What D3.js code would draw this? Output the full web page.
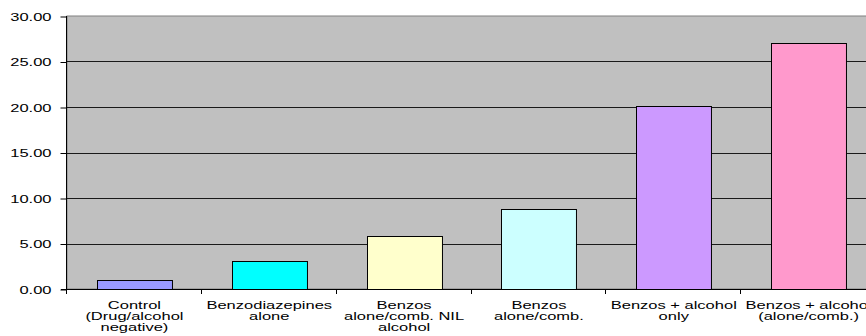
<!DOCTYPE html>
<html>
<head>
<meta charset="utf-8">
<script src="https://cdn.jsdelivr.net/npm/d3@7"></script>
<style>
    body { margin: 0; background: #fff; }
    svg { display: block; }
    text { font-family: Arial, "Liberation Sans", sans-serif; fill: #000; }
</style>
</head>
<body>
<div id="chart"></div>
<script>
// Data
const categories = [
    ["Control", "(Drug/alcohol", "negative)"],
    ["Benzodiazepines", "alone"],
    ["Benzos", "alone/comb. NIL", "alcohol"],
    ["Benzos", "alone/comb."],
    ["Benzos + alcohol", "only"],
    ["Benzos + alcohol", "(alone/comb.)"]
];
const values = [1.0, 3.1, 5.8, 8.8, 20.1, 27.0];
const colors = ["#9999FF", "#00FFFF", "#FFFFCC", "#CCFFFF", "#CC99FF", "#FF99CC"];
const yTicks = [0, 5, 10, 15, 20, 25, 30];

const params = {
    selector: "chart",
    width: 866,
    height: 336,
    margin: {top: 16, left: 67, bottom: 47},
    plotRight: 876,
    stretch: 1.5
}

const svg = d3.select(`#${params.selector}`)
    .append("svg")
    .attr("width", params.width)
    .attr("height", params.height)
    .style("overflow", "hidden");

const keys = categories.map((d, i) => i);

const xScale = d3.scaleBand()
    .domain(keys)
    .range([params.margin.left, params.plotRight])
    .paddingInner(0.444)
    .paddingOuter(0.222);

const yScale = d3.scaleLinear()
    .domain([0, 30])
    .range([params.height - params.margin.bottom, params.margin.top]);

const step = xScale.step();
const x0 = params.margin.left;
const y0 = yScale(0);

// plot area
svg.append("rect")
    .attr("x", x0)
    .attr("y", yScale(30))
    .attr("width", params.plotRight - x0)
    .attr("height", y0 - yScale(30))
    .attr("fill", "#C0C0C0")
    .attr("stroke", "#808080")
    .attr("stroke-width", 1);

// gridlines
svg.append("g")
    .selectAll("line")
    .data(yTicks.filter(d => d > 0 && d < 30))
    .join("line")
    .attr("x1", x0)
    .attr("x2", params.plotRight)
    .attr("y1", d => Math.round(yScale(d)) + 0.5)
    .attr("y2", d => Math.round(yScale(d)) + 0.5)
    .attr("stroke", "#1a1a1a")
    .attr("stroke-width", 1);

// bars
svg.append("g")
    .selectAll("rect")
    .data(values)
    .join("rect")
    .attr("x", (d, i) => Math.round(xScale(i)) + 0.5)
    .attr("y", d => Math.round(yScale(d)) + 0.5)
    .attr("width", xScale.bandwidth())
    .attr("height", d => y0 - Math.round(yScale(d)))
    .attr("fill", (d, i) => colors[i])
    .attr("stroke", "#000")
    .attr("stroke-width", 1);

// y axis
const yAxis = svg.append("g")
    .attr("transform", `translate(${x0 - 0.5}, 0.5)`)
    .call(d3.axisLeft(yScale).tickValues(yTicks).tickFormat(d3.format(".2f")).tickSize(6).tickPadding(4));

yAxis.select(".domain").remove();
yAxis.selectAll(".tick line").attr("stroke", "#000");
yAxis.selectAll(".tick text")
    .attr("font-size", 11)
    .attr("font-family", "Arial, 'Liberation Sans', sans-serif")
    .attr("x", -10 / params.stretch * 1.5 - 0.0)
    .attr("transform", `scale(${params.stretch},1)`);

svg.append("line")
    .attr("x1", x0 - 0.5).attr("x2", x0 - 0.5)
    .attr("y1", yScale(30)).attr("y2", y0 + 3)
    .attr("stroke", "#000");

// x axis
svg.append("line")
    .attr("x1", x0 - 6).attr("x2", params.width)
    .attr("y1", y0 + 0.5).attr("y2", y0 + 0.5)
    .attr("stroke", "#000");

svg.append("g")
    .selectAll("line")
    .data(d3.range(keys.length + 1))
    .join("line")
    .attr("x1", i => Math.round(x0 + i * step) - 0.5)
    .attr("x2", i => Math.round(x0 + i * step) - 0.5)
    .attr("y1", y0)
    .attr("y2", y0 + 5)
    .attr("stroke", "#000");

// category labels
const labels = svg.append("g")
    .selectAll("g")
    .data(categories)
    .join("g")
    .attr("transform", (d, i) => `translate(${xScale(i) + xScale.bandwidth() / 2}, 309)`);

labels.selectAll("text")
    .data(d => d)
    .join("text")
    .attr("text-anchor", "middle")
    .attr("font-size", 11)
    .attr("transform", (d, j) => `translate(0, ${j * 11}) scale(${params.stretch},1)`)
    .text(d => d);
</script>
</body>
</html>
